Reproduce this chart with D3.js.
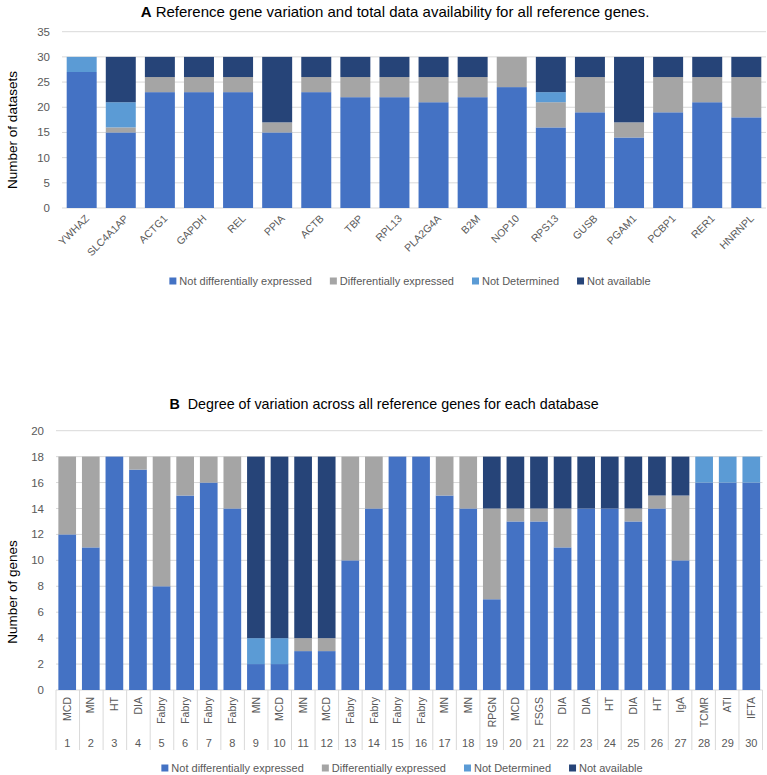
<!DOCTYPE html>
<html><head><meta charset="utf-8">
<script src="https://cdn.jsdelivr.net/npm/d3@7"></script>
<style>body{margin:0;background:#fff}svg{display:block}text{font-family:"Liberation Sans",Arial,sans-serif}</style>
</head><body>
<svg id="c" width="767" height="775"></svg>
<script>
// ---------- Data ----------
const seriesNames = ["Not differentially expressed","Differentially expressed","Not Determined","Not available"];
const seriesColors = ["#4472C4","#A5A5A5","#5B9BD5","#264478"];

// Chart A
const genes = ["YWHAZ","SLC4A1AP","ACTG1","GAPDH","REL","PPIA","ACTB","TBP","RPL13","PLA2G4A","B2M","NOP10","RPS13","GUSB","PGAM1","PCBP1","RER1","HNRNPL"];
const aNotDE  = [27,15,23,23,23,15,23,22,22,21,22,24,16,19,14,19,21,18];
const aDE     = [0,1,3,3,3,2,3,4,4,5,4,6,5,7,3,7,5,8];
const aNotDet = [3,5,0,0,0,0,0,0,0,0,0,0,2,0,0,0,0,0];
const aNA     = [0,9,4,4,4,13,4,4,4,4,4,0,7,4,13,4,4,4];
const aTicks  = [0,5,10,15,20,25,30,35];

// Chart B
const dbIds   = ["1","2","3","4","5","6","7","8","9","10","11","12","13","14","15","16","17","18","19","20","21","22","23","24","25","26","27","28","29","30"];
const dbTypes = ["MCD","MN","HT","DIA","Fabry","Fabry","Fabry","Fabry","MN","MCD","MN","MCD","Fabry","Fabry","Fabry","Fabry","MN","MN","RPGN","MCD","FSGS","DIA","DIA","HT","DIA","HT","IgA","TCMR","ATI","IFTA"];
const bNotDE  = [12,11,18,17,8,15,16,14,2,2,3,3,10,14,18,18,15,14,7,13,13,11,14,14,13,14,10,16,16,16];
const bDE     = [6,7,0,1,10,3,2,4,0,0,1,1,8,4,0,0,3,4,7,1,1,3,0,0,1,1,5,0,0,0];
const bNotDet = [0,0,0,0,0,0,0,0,2,2,0,0,0,0,0,0,0,0,0,0,0,0,0,0,0,0,0,2,2,2];
const bNA     = [0,0,0,0,0,0,0,0,14,14,14,14,0,0,0,0,0,0,4,4,4,4,4,4,4,3,3,0,0,0];
const bTicks  = [0,2,4,6,8,10,12,14,16,18,20];

// ---------- Drawing ----------
const svg = d3.select("#c");
const grid = "#D9D9D9", tickCol = "#595959";

function stackData(cats, arrs){
  return cats.map((c,i)=>{const o={cat:c}; seriesNames.forEach((s,k)=>o[s]=arrs[k][i]); return o;});
}
function drawStack(g, data, x, y){
  const st = d3.stack().keys(seriesNames)(data);
  g.selectAll("g.s").data(st).join("g").attr("class","s")
    .attr("fill",(d,i)=>seriesColors[i])
    .selectAll("rect").data(d=>d.filter(p=>p[1]-p[0]>0)).join("rect")
    .attr("x",d=>x(d.data.cat)).attr("width",x.bandwidth())
    .attr("y",d=>y(d[1])).attr("height",d=>y(d[0])-y(d[1]));
}
function drawLegend(cx, cy){
  const g = svg.append("g");
  let xpos = 0;
  seriesNames.forEach((s,i)=>{
    const it = g.append("g").attr("transform",`translate(${xpos},0)`);
    it.append("rect").attr("x",0).attr("y",-3.5).attr("width",7).attr("height",7).attr("fill",seriesColors[i]);
    const t = it.append("text").attr("x",10).attr("y",0).attr("dy","0.35em")
      .attr("font-size",11).attr("fill",tickCol).text(s);
    xpos += 10 + t.node().getComputedTextLength() + 18;
  });
  const w = xpos - 18;
  g.attr("transform",`translate(${cx - w/2},${cy})`);
}

// ===== Chart A =====
const xA = d3.scaleBand().domain(genes).range([62,766]).paddingInner(0.233).paddingOuter(0.12);
const yA = d3.scaleLinear().domain([0,35]).range([208,31.7]);
const gA = svg.append("g");
gA.append("g").selectAll("line").data(aTicks).join("line")
  .attr("x1",62).attr("x2",766).attr("y1",d=>yA(d)).attr("y2",d=>yA(d))
  .attr("stroke",grid).attr("stroke-width",1);
gA.append("g").selectAll("text").data(aTicks).join("text")
  .attr("x",50).attr("y",d=>yA(d)).attr("dy","0.35em").attr("text-anchor","end")
  .attr("font-size",11.5).attr("fill",tickCol).text(d=>d);
drawStack(gA.append("g"), stackData(genes,[aNotDE,aDE,aNotDet,aNA]), xA, yA);
gA.append("g").selectAll("text").data(genes).join("text")
  .attr("transform",d=>`translate(${xA(d)+xA.bandwidth()/2+3},${214}) rotate(-45)`)
  .attr("text-anchor","end").attr("dy","0.7em").attr("font-size",10.5).attr("fill",tickCol).text(d=>d);
svg.append("text").attr("transform","translate(17,130) rotate(-90)").attr("text-anchor","middle")
  .attr("font-size",13.5).attr("fill","#000").text("Number of datasets");
const tA = svg.append("text").attr("x",395).attr("y",17).attr("text-anchor","middle").attr("font-size",15).attr("fill","#000");
tA.append("tspan").attr("font-weight","bold").text("A");
tA.append("tspan").text(" Reference gene variation and total data availability for all reference genes.");
drawLegend(410, 281);

// ===== Chart B =====
const xB = d3.scaleBand().domain(dbIds).range([56,762.5]).paddingInner(0.25).paddingOuter(0.1);
const yB = d3.scaleLinear().domain([0,20]).range([690,430.7]);
const gB = svg.append("g");
gB.append("g").selectAll("line").data(bTicks).join("line")
  .attr("x1",56).attr("x2",762.5).attr("y1",d=>yB(d)).attr("y2",d=>yB(d))
  .attr("stroke",grid).attr("stroke-width",1);
gB.append("g").selectAll("text").data(bTicks).join("text")
  .attr("x",44).attr("y",d=>yB(d)).attr("dy","0.35em").attr("text-anchor","end")
  .attr("font-size",11.5).attr("fill",tickCol).text(d=>d);
drawStack(gB.append("g"), stackData(dbIds,[bNotDE,bDE,bNotDet,bNA]), xB, yB);
// multi-level category axis separators
const stepB = (762.5-56)/dbIds.length;
gB.append("g").selectAll("line").data(d3.range(dbIds.length+1)).join("line")
  .attr("x1",i=>56+i*stepB).attr("x2",i=>56+i*stepB).attr("y1",690).attr("y2",750)
  .attr("stroke",grid).attr("stroke-width",1);
gB.append("g").selectAll("text").data(dbIds).join("text")
  .attr("transform",(d,i)=>`translate(${xB(d)+xB.bandwidth()/2},697) rotate(-90)`)
  .attr("text-anchor","end").attr("dy","0.35em").attr("font-size",10.5).attr("fill",tickCol)
  .text((d,i)=>dbTypes[i]);
gB.append("g").selectAll("text").data(dbIds).join("text")
  .attr("x",d=>xB(d)+xB.bandwidth()/2).attr("y",743).attr("dy","0.35em").attr("text-anchor","middle")
  .attr("font-size",11).attr("fill",tickCol).text(d=>d);
svg.append("text").attr("transform","translate(17,592) rotate(-90)").attr("text-anchor","middle")
  .attr("font-size",13.5).attr("fill","#000").text("Number of genes");
const tB = svg.append("text").attr("x",384).attr("y",409).attr("text-anchor","middle").attr("font-size",14.3).attr("fill","#000");
tB.append("tspan").attr("font-weight","bold").text("B");
tB.append("tspan").text("\u00a0 Degree of variation across all reference genes for each database");
drawLegend(402, 768);
</script>
</body></html>
